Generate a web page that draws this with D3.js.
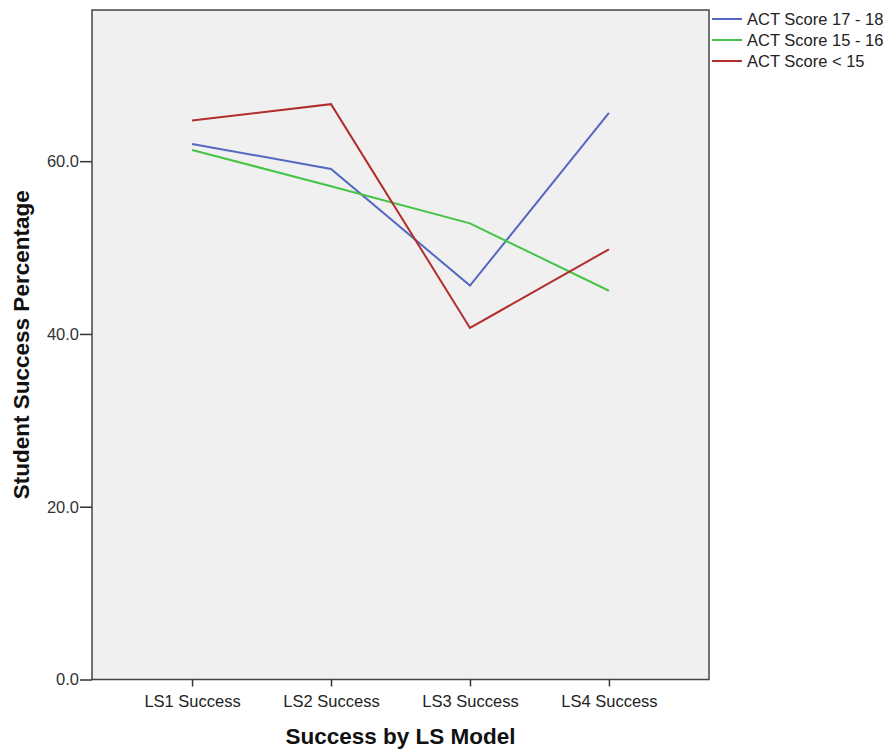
<!DOCTYPE html>
<html><head><meta charset="utf-8">
<script src="https://cdn.jsdelivr.net/npm/d3@7"></script>
<style>body{margin:0;background:#fff;} text{font-family:"Liberation Sans",Arial,sans-serif;}</style>
</head><body><svg id="c" width="888" height="751"></svg>
<script>
const categories = ["LS1 Success","LS2 Success","LS3 Success","LS4 Success"];
const seriesNames = ["ACT Score 17 - 18","ACT Score 15 - 16","ACT Score < 15"];
const act1718 = [62.0, 59.1, 45.6, 65.6];
const act1516 = [61.3, 57.1, 52.8, 45.0];
const actLt15 = [64.7, 66.6, 40.7, 49.8];
const yTicks = [0, 20, 40, 60];
const colors = ["#5468c0","#45c445","#b22d2d"];

const series = [act1718, act1516, actLt15];
const svg = d3.select("#c");
const L=92, R=709, T=10, B=679.5;
const x = d3.scalePoint().domain(categories).range([L,R]).padding(0.72);
const y = d3.scaleLinear().domain([0,77.5]).range([B,T]);

svg.append("rect").attr("x",L).attr("y",T).attr("width",R-L).attr("height",B-T)
  .attr("fill","#f0f0f0").attr("stroke","#444").attr("stroke-width",1.5);

const yAxis = svg.append("g").attr("transform",`translate(${L},0)`)
  .call(d3.axisLeft(y).tickValues(yTicks).tickFormat(d3.format(".1f")).tickSize(12).tickPadding(1));
yAxis.select(".domain").remove();
yAxis.selectAll("line").attr("stroke","#333").attr("stroke-width",1.5);
yAxis.selectAll("text").attr("font-size",16.5).attr("fill","#333").attr("font-family","Liberation Sans, Arial, sans-serif");

const xAxis = svg.append("g").attr("transform",`translate(0,${B})`)
  .call(d3.axisBottom(x).tickSize(7).tickPadding(8.5));
xAxis.select(".domain").remove();
xAxis.selectAll("line").attr("stroke","#333").attr("stroke-width",1.5);
xAxis.selectAll("text").attr("font-size",16.5).attr("fill","#222").attr("font-family","Liberation Sans, Arial, sans-serif");

const line = d3.line().x((d,i)=>x(categories[i])).y(d=>y(d));
series.forEach((s,k)=>{
  svg.append("path").datum(s).attr("d",line).attr("fill","none")
    .attr("stroke",colors[k]).attr("stroke-width",2);
});

// legend
seriesNames.forEach((n,k)=>{
  const yy = 19 + k*21;
  svg.append("line").attr("x1",712).attr("x2",742).attr("y1",yy).attr("y2",yy)
    .attr("stroke",colors[k]).attr("stroke-width",2);
  svg.append("text").attr("x",747).attr("y",yy+6).attr("font-size",16.5).attr("fill","#222").text(n);
});

svg.append("text").attr("transform",`translate(29,${(T+B)/2}) rotate(-90)`)
  .attr("text-anchor","middle").attr("font-size",22.5).attr("font-weight","bold").attr("fill","#111")
  .text("Student Success Percentage");
svg.append("text").attr("x",(L+R)/2).attr("y",744).attr("text-anchor","middle")
  .attr("font-size",22.5).attr("font-weight","bold").attr("fill","#111").text("Success by LS Model");
</script></body></html>
